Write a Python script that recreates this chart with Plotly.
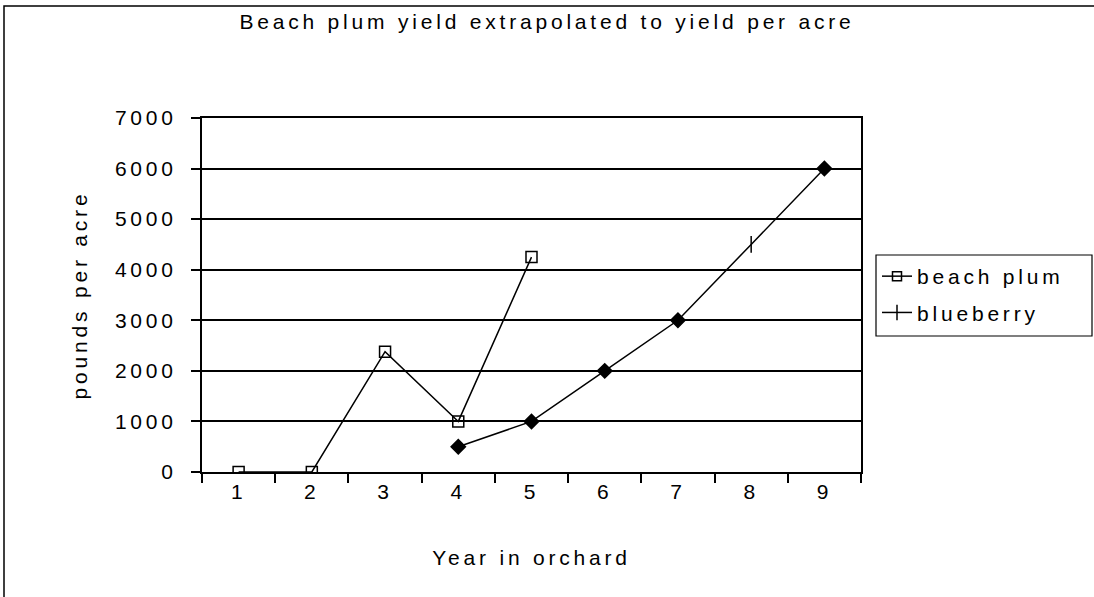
import plotly.graph_objects as go

years = ["1", "2", "3", "4", "5", "6", "7", "8", "9"]
plum_x = ["1", "2", "3", "4", "5"]
plum_y = [0, 0, 2380, 1000, 4250]
blue_x = ["4", "5", "6", "7", "8", "9"]
blue_y = [500, 1000, 2000, 3000, 4500, 6000]
blue_symbols = ["diamond", "diamond", "diamond", "diamond", "line-ns", "diamond"]
y_ticks = [0, 1000, 2000, 3000, 4000, 5000, 6000, 7000]

LS = 3.8
FS = 21
FONT = "Liberation Sans, Arial, sans-serif"


def sp(t, s=LS):
    return f'<span style="letter-spacing:{s}px">{t}</span>'


fig = go.Figure()
fig.add_trace(go.Scatter(
    x=plum_x, y=plum_y, mode="lines+markers", name=sp("beach plum"),
    line=dict(color="black", width=1.5),
    marker=dict(symbol="square-open", size=11, color="black", line=dict(width=1.5, color="black")),
    showlegend=False,
))
fig.add_trace(go.Scatter(
    x=blue_x, y=blue_y, mode="lines+markers", name=sp("blueberry"),
    line=dict(color="black", width=1.5),
    marker=dict(symbol=blue_symbols, size=[11, 11, 11, 11, 12, 11], color="black",
                opacity=1, line=dict(width=1.5, color="black")),
    showlegend=False,
))
# legend entries
fig.add_trace(go.Scatter(
    x=[None], y=[None], mode="lines+markers", name=sp("beach plum"),
    legendgroup="a",
    line=dict(color="black", width=1.5),
    marker=dict(symbol="square-open", size=9, color="black", line=dict(width=1.5, color="black")),
))
fig.add_trace(go.Scatter(
    x=[None], y=[None], mode="lines+markers", name=sp("blueberry"),
    legendgroup="b",
    line=dict(color="black", width=1.5),
    marker=dict(symbol="line-ns", size=11, color="black", line=dict(width=1.5, color="black")),
))

L, R, T, B = 202, 861, 118, 472
W, H = 1094, 597
pw, ph = R - L, B - T


def px(x):
    return (x - L) / pw


def py(y):
    return (B - y) / ph


fig.update_layout(
    width=W, height=H,
    margin=dict(l=L, r=W - R, t=T, b=H - B, autoexpand=False),
    paper_bgcolor="white", plot_bgcolor="white",
    font=dict(family=FONT, size=FS, color="black"),
    title=dict(text=sp("Beach plum yield extrapolated to yield per acre"),
               x=0.5, xref="container", xanchor="center",
               y=1 - 22 / H, yref="container", yanchor="middle",
               font=dict(size=FS, family=FONT, color="black")),
    showlegend=True,
    legend=dict(x=px(877), xanchor="left", y=py(256), yanchor="top",
                borderwidth=0, bgcolor="rgba(0,0,0,0)",
                font=dict(size=FS, family=FONT, color="black"),
                itemwidth=30, traceorder="grouped", tracegroupgap=6),
    shapes=[
        dict(type="rect", xref="paper", yref="paper",
             x0=px(4), x1=px(1110), y0=py(620), y1=py(6),
             line=dict(color="black", width=1.5), fillcolor="rgba(0,0,0,0)",
             layer="below"),
        dict(type="rect", xref="paper", yref="paper",
             x0=px(876), x1=px(1092), y0=py(336), y1=py(255),
             line=dict(color="black", width=1.2), fillcolor="white",
             layer="below"),
    ],
)
fig.update_xaxes(
    type="category", categoryorder="array", categoryarray=years,
    tickmode="array", tickvals=years, ticktext=[sp(v) for v in years],
    range=[-0.5, 8.5], tickson="boundaries", ticks="outside", ticklen=9,
    tickcolor="black", tickwidth=1.5,
    showline=True, linecolor="black", linewidth=2, mirror=True,
    showgrid=False, zeroline=False,
    title=dict(text=sp("Year in orchard"), font=dict(size=FS, family=FONT, color="black"), standoff=48),
)
fig.update_yaxes(
    range=[0, 7000], tickmode="array", tickvals=y_ticks, ticktext=[sp(str(v)) for v in y_ticks],
    ticks="outside", ticklen=9, tickcolor="black", tickwidth=1.5, ticklabelstandoff=10,
    showline=True, linecolor="black", linewidth=2, mirror=True,
    showgrid=True, gridcolor="black", gridwidth=1.5, zeroline=False,
    title=dict(text=sp("pounds per acre"), font=dict(size=FS, family=FONT, color="black"), standoff=22),
)

fig.write_html("out.html", config={"displayModeBar": False},
               post_script="document.body.style.margin='0';document.body.style.overflow='hidden';")
